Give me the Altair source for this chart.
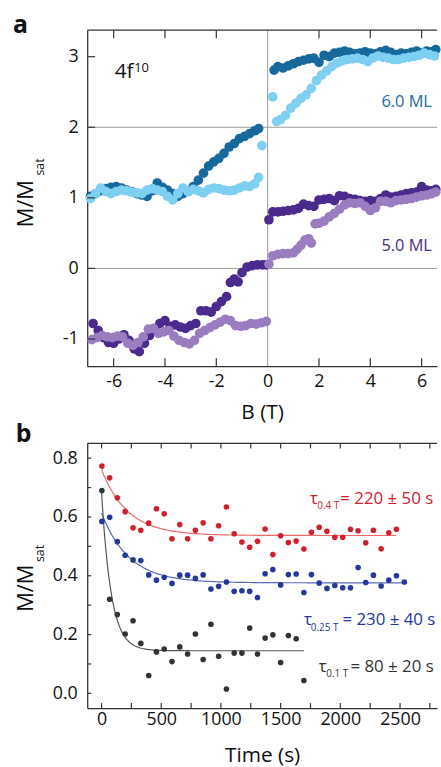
import altair as alt
import numpy as np
import pandas as pd

FONT = "Open Sans"

# ---------------- panel a: hysteresis loops ----------------
db_neg_B = [-6.9, -6.7, -6.5, -6.3, -6.1, -5.9, -5.7, -5.5, -5.3, -5.1, -4.9, -4.7, -4.5, -4.3, -4.1, -3.9, -3.7,
            -3.5, -3.3, -3.1, -2.9, -2.7, -2.5, -2.3, -2.1, -1.9, -1.7, -1.5, -1.3, -1.1, -0.9, -0.7, -0.5, -0.35]
db_neg_M = [1.02, 1.06, 1.10, 1.13, 1.15, 1.16, 1.14, 1.11, 1.09, 1.06, 1.04, 1.02, 1.10, 1.21, 1.15, 1.11, 1.06,
            1.02, 1.06, 1.09, 1.16, 1.25, 1.35, 1.45, 1.51, 1.56, 1.63, 1.72, 1.77, 1.84, 1.87, 1.91, 1.95, 1.98]
db_pos_B = [0.25, 0.4, 0.6, 0.8, 1.0, 1.2, 1.4, 1.6, 1.8, 2.0, 2.2, 2.4, 2.6, 2.8, 3.0, 3.2, 3.4, 3.6, 3.8, 4.0,
            4.2, 4.4, 4.6, 4.8, 5.0, 5.2, 5.4, 5.6, 5.8, 6.0, 6.2, 6.4, 6.55]
db_pos_M = [2.81, 2.86, 2.84, 2.87, 2.90, 2.93, 2.95, 2.97, 2.98, 2.92, 3.02, 3.00, 3.05, 3.06, 3.08, 3.06, 3.04,
            3.05, 3.07, 3.05, 3.04, 3.07, 3.09, 3.06, 3.03, 3.05, 3.04, 3.06, 3.08, 3.05, 3.08, 3.07, 3.10]

lb_neg_B = [-6.9, -6.7, -6.5, -6.3, -6.1, -5.9, -5.7, -5.5, -5.3, -5.1, -4.9, -4.7, -4.5, -4.3, -4.1, -3.9, -3.7,
            -3.5, -3.3, -3.1, -2.9, -2.7, -2.5, -2.3, -2.1, -1.9, -1.7, -1.5, -1.3, -1.1, -0.9, -0.7, -0.5, -0.35,
            -0.22]
lb_neg_M = [0.99, 1.06, 1.14, 1.09, 1.06, 1.09, 1.11, 1.10, 1.08, 1.07, 1.06, 1.11, 1.13, 1.11, 1.09, 1.02, 0.97,
            1.06, 1.14, 1.09, 1.12, 1.10, 1.07, 1.12, 1.14, 1.13, 1.11, 1.10, 1.11, 1.14, 1.17, 1.16, 1.20, 1.29,
            1.74]
lb_pos_B = [0.2, 0.35, 0.5, 0.7, 0.9, 1.1, 1.3, 1.5, 1.7, 1.9, 2.1, 2.3, 2.5, 2.7, 2.9, 3.1, 3.3, 3.5, 3.7, 3.9,
            4.1, 4.3, 4.5, 4.7, 4.9, 5.1, 5.3, 5.5, 5.7, 5.9, 6.1, 6.3, 6.5]
lb_pos_M = [2.43, 2.08, 2.11, 2.17, 2.27, 2.34, 2.41, 2.46, 2.55, 2.66, 2.74, 2.80, 2.86, 2.91, 2.94, 2.96, 2.97,
            2.98, 2.96, 2.93, 2.98, 3.01, 2.99, 2.98, 2.96, 2.96, 2.98, 2.99, 3.00, 3.02, 3.05, 3.03, 3.01]

dp_neg_B = [-6.8, -6.6, -6.4, -6.2, -6.0, -5.8, -5.6, -5.4, -5.2, -5.0, -4.8, -4.6, -4.4, -4.2, -4.0, -3.8, -3.6,
            -3.4, -3.2, -3.0, -2.8, -2.6, -2.4, -2.2, -2.0, -1.8, -1.6, -1.45, -1.3, -1.15, -1.0, -0.8, -0.6, -0.4,
            -0.2, -0.05]
dp_neg_M = [-0.78, -0.88, -0.98, -1.05, -1.06, -1.00, -0.94, -1.02, -1.14, -1.18, -1.06, -0.95, -0.86, -0.78,
            -0.74, -0.82, -0.80, -0.83, -0.85, -0.81, -0.78, -0.60, -0.60, -0.62, -0.54, -0.47, -0.40, -0.20,
            -0.15, -0.19, -0.06, 0.02, 0.04, 0.05, 0.05, 0.05]
dp_pos_B = [0.05, 0.2, 0.4, 0.6, 0.8, 1.0, 1.2, 1.4, 1.6, 1.8, 2.0, 2.2, 2.4, 2.6, 2.8, 3.0, 3.2, 3.4, 3.6, 3.8,
            4.0, 4.2, 4.4, 4.6, 4.8, 5.0, 5.2, 5.4, 5.6, 5.8, 6.0, 6.2, 6.4, 6.55]
dp_pos_M = [0.69, 0.80, 0.80, 0.81, 0.82, 0.83, 0.85, 0.91, 0.89, 0.88, 0.97, 0.98, 0.99, 0.96, 1.03, 1.02, 0.99,
            0.98, 0.96, 0.95, 0.96, 0.95, 0.99, 1.04, 1.01, 1.02, 1.04, 1.06, 1.07, 1.08, 1.16, 1.11, 1.10, 1.12]

lp_neg_B = [-6.85, -6.65, -6.45, -6.25, -6.05, -5.85, -5.65, -5.45, -5.25, -5.05, -4.85, -4.65, -4.45, -4.25,
            -4.05, -3.85, -3.65, -3.45, -3.25, -3.05, -2.85, -2.65, -2.45, -2.25, -2.05, -1.85, -1.65, -1.45,
            -1.25, -1.05, -0.85, -0.65, -0.45, -0.25, -0.05]
lp_neg_M = [-1.01, -0.98, -0.95, -0.97, -0.98, -0.96, -0.97, -1.06, -1.09, -1.05, -0.97, -0.86, -0.85, -0.92,
            -0.90, -0.88, -0.96, -1.02, -1.05, -1.07, -1.02, -0.92, -0.88, -0.84, -0.80, -0.76, -0.72, -0.74,
            -0.81, -0.82, -0.81, -0.78, -0.79, -0.77, -0.75]
lp_pos_B = [0.05, 0.2, 0.4, 0.6, 0.8, 1.0, 1.15, 1.3, 1.45, 1.6, 1.7, 1.85, 2.0, 2.2, 2.4, 2.6, 2.8, 3.0, 3.2,
            3.4, 3.6, 3.8, 4.0, 4.2, 4.4, 4.6, 4.8, 5.0, 5.2, 5.4, 5.6, 5.8, 6.0, 6.2, 6.4, 6.55]
lp_pos_M = [0.06, 0.18, 0.20, 0.21, 0.21, 0.22, 0.27, 0.33, 0.40, 0.42, 0.36, 0.63, 0.64, 0.67, 0.73, 0.78, 0.84,
            0.90, 0.93, 0.92, 0.93, 0.88, 0.82, 0.86, 0.95, 0.95, 0.93, 0.96, 0.97, 0.98, 0.99, 1.01, 1.03, 1.04,
            1.06, 1.08]

loop_names = ["6.0 ML up", "6.0 ML down", "5.0 ML up", "5.0 ML down"]
loop_colors = ["#17689c", "#7ed0f2", "#4a2a8c", "#9a7cc0"]

# ---------------- panel b: relaxation at fixed field ----------------
times = [3, 68, 132, 198, 264, 329, 395, 460, 525, 590, 655, 721, 786, 851, 916, 981, 1046, 1111, 1176, 1241,
         1306, 1370, 1435, 1500, 1565, 1630, 1695, 1758, 1823, 1888, 1954, 2020, 2085, 2149, 2213, 2277, 2342,
         2406, 2470, 2536]
red_M = [0.773, 0.733, 0.665, 0.618, 0.563, 0.555, 0.579, 0.628, 0.611, 0.526, 0.574, 0.526, 0.555, 0.580,
         0.526, 0.570, 0.634, 0.543, 0.515, 0.497, 0.517, 0.559, 0.472, 0.536, 0.513, 0.518, 0.491, 0.548,
         0.565, 0.551, 0.531, 0.531, 0.558, 0.553, 0.512, 0.555, 0.492, 0.546, 0.558]
blue_M = [0.585, 0.599, 0.516, 0.470, 0.454, 0.452, 0.403, 0.385, 0.395, 0.374, 0.402, 0.402, 0.391, 0.403,
          0.355, 0.364, 0.379, 0.347, 0.349, 0.347, 0.326, 0.407, 0.421, 0.369, 0.404, 0.406, 0.343, 0.404,
          0.375, 0.357, 0.367, 0.359, 0.359, 0.428, 0.377, 0.402, 0.365, 0.385, 0.400, 0.379]
gray_M = [0.690, 0.320, 0.268, 0.202, 0.247, 0.170, 0.061, 0.141, 0.151, 0.108, 0.158, 0.134, 0.202, 0.115,
          0.235, 0.126, 0.015, 0.137, 0.137, 0.222, 0.134, 0.188, 0.199, 0.105, 0.197, 0.186, 0.044]

relax_names = ["0.4 T", "0.25 T", "0.1 T"]
relax_colors = ["#d0202e", "#25389a", "#333333"]
fit_colors = ["#f06a66", "#5c68bb", "#555555"]
fit_tau = [220, 230, 80]          # s
fit_base = [0.537, 0.376, 0.145]
fit_amp = [0.224, 0.237, 0.540]
fit_end = [2470, 2536, 1695]

W, HA, HB = 353, 339, 267

# ---------- build tables ----------
loops = pd.concat([
    pd.DataFrame({"B": db_neg_B + db_pos_B, "M": db_neg_M + db_pos_M, "loop": loop_names[0]}),
    pd.DataFrame({"B": lb_neg_B + lb_pos_B, "M": lb_neg_M + lb_pos_M, "loop": loop_names[1]}),
    pd.DataFrame({"B": dp_neg_B + dp_pos_B, "M": dp_neg_M + dp_pos_M, "loop": loop_names[2]}),
    pd.DataFrame({"B": lp_neg_B + lp_pos_B, "M": lp_neg_M + lp_pos_M, "loop": loop_names[3]}),
], ignore_index=True)

relax = pd.concat([
    pd.DataFrame({"t": times[:len(red_M)], "M": red_M, "run": relax_names[0]}),
    pd.DataFrame({"t": times[:len(blue_M)], "M": blue_M, "run": relax_names[1]}),
    pd.DataFrame({"t": times[:len(gray_M)], "M": gray_M, "run": relax_names[2]}),
], ignore_index=True)

fit_rows = []
for name, tau, base, amp, end in zip(relax_names, fit_tau, fit_base, fit_amp, fit_end):
    tt = np.linspace(0, end, 200)
    fit_rows.append(pd.DataFrame({"t": tt, "M": base + amp * np.exp(-tt / tau), "fit": name}))
fits = pd.concat(fit_rows, ignore_index=True)

MINUS = "replace(datum.label, '\u2212', '-')"
AXIS_COLOR = "#333333"


def inward_ticks_x(values, h, length, scale, field="v"):
    df = pd.DataFrame({field: values})
    top = alt.Chart(df).mark_rule(color=AXIS_COLOR, strokeWidth=1.2).encode(
        x=alt.X(f"{field}:Q", scale=scale), y=alt.value(0), y2=alt.value(length))
    bot = alt.Chart(df).mark_rule(color=AXIS_COLOR, strokeWidth=1.2).encode(
        x=alt.X(f"{field}:Q", scale=scale), y=alt.value(h), y2=alt.value(h - length))
    return top + bot


def inward_ticks_y(values, length, scale, field="v"):
    df = pd.DataFrame({field: values})
    return alt.Chart(df).mark_rule(color=AXIS_COLOR, strokeWidth=1.2).encode(
        y=alt.Y(f"{field}:Q", scale=scale), x=alt.value(0), x2=alt.value(length))


def top_line():
    return alt.Chart(pd.DataFrame({"k": [0]})).mark_rule(color=AXIS_COLOR, strokeWidth=1.3).encode(
        x=alt.value(0), x2=alt.value(W), y=alt.value(0))


def label(text, x, y, size, color, weight="normal", angle=0, align="left", baseline="alphabetic"):
    return alt.Chart(pd.DataFrame({"txt": [text]})).mark_text(
        font=FONT, fontSize=size, color=color, fontWeight=weight, angle=angle, align=align,
        baseline=baseline).encode(x=alt.value(x), y=alt.value(y), text="txt:N")


def data_text(df, xf, yf, size, color, align="left"):
    return alt.Chart(df).mark_text(font=FONT, fontSize=size, color=color, align=align,
                                   baseline="alphabetic").encode(x=xf, y=yf, text="txt:N")


# ---------- panel a ----------
xa_scale = alt.Scale(domain=[-7.03, 6.6], nice=False, zero=False)
ya_scale = alt.Scale(domain=[-1.385, 3.375], nice=False, zero=False)

a_points = alt.Chart(loops).mark_circle(size=95, opacity=1).encode(
    x=alt.X("B:Q", scale=xa_scale,
            axis=alt.Axis(values=[-6, -4, -2, 0, 2, 4, 6], format="d", title="B (T)", ticks=False, tickSize=0,
                          grid=False, labelPadding=7, titlePadding=11, labelExpr=MINUS)),
    y=alt.Y("M:Q", scale=ya_scale,
            axis=alt.Axis(values=[-1, 0, 1, 2, 3], format="d", title=None, ticks=False, tickSize=0, grid=False,
                          labelPadding=9, labelExpr=MINUS)),
    color=alt.Color("loop:N", scale=alt.Scale(domain=loop_names, range=loop_colors), legend=None),
)

hlines = alt.Chart(pd.DataFrame({"M": [0, 2]})).mark_rule(color="#9a9a9a", strokeWidth=1).encode(
    y=alt.Y("M:Q", scale=ya_scale))
vlines = alt.Chart(pd.DataFrame({"B": [0]})).mark_rule(color="#9a9a9a", strokeWidth=1).encode(
    x=alt.X("B:Q", scale=xa_scale))

a_ann = pd.DataFrame({"B": [6.40, 6.40], "M": [2.28, 0.25], "txt": ["6.0 ML", "5.0 ML"]})
a_lab_6 = data_text(a_ann.iloc[[0]], alt.X("B:Q", scale=xa_scale), alt.Y("M:Q", scale=ya_scale), 16.5,
                    "#1f6aa0", align="right")
a_lab_5 = data_text(a_ann.iloc[[1]], alt.X("B:Q", scale=xa_scale), alt.Y("M:Q", scale=ya_scale), 16.5,
                    "#4b2d8c", align="right")
conf_main = data_text(pd.DataFrame({"B": [-5.96], "M": [2.70], "txt": ["4f"]}),
                      alt.X("B:Q", scale=xa_scale), alt.Y("M:Q", scale=ya_scale), 21, "#111111")
conf_sup = data_text(pd.DataFrame({"B": [-5.20], "M": [2.78], "txt": ["10"]}),
                     alt.X("B:Q", scale=xa_scale), alt.Y("M:Q", scale=ya_scale), 13, "#111111")

panel_a = alt.layer(
    hlines, vlines, a_points,
    inward_ticks_x([-6, -4, -2, 2, 4, 6], HA, 8, xa_scale),
    inward_ticks_y([-1, 0, 1, 2, 3], 8, ya_scale),
    top_line(),
    a_lab_6, a_lab_5, conf_main, conf_sup,
    label("a", -75, 3, 25, "#111111", weight="bold"),
    label("M/M", -55, 175, 22, "#111111", angle=270, align="center"),
    label("sat", -44, 138, 12.5, "#111111", angle=270, align="center"),
).properties(width=W, height=HA)

# ---------- panel b ----------
xb_scale = alt.Scale(domain=[-120, 2810], nice=False, zero=False)
yb_scale = alt.Scale(domain=[-0.05, 0.85], nice=False, zero=False)

b_points = alt.Chart(relax).mark_circle(size=32, opacity=1).encode(
    x=alt.X("t:Q", scale=xb_scale,
            axis=alt.Axis(values=[0, 500, 1000, 1500, 2000, 2500], format="d", title="Time (s)", ticks=False,
                          tickSize=0, grid=False, labelPadding=3, titlePadding=16)),
    y=alt.Y("M:Q", scale=yb_scale,
            axis=alt.Axis(values=[0.0, 0.2, 0.4, 0.6, 0.8], format=".1f", title=None, ticks=False, tickSize=0,
                          grid=False, labelPadding=10)),
    color=alt.Color("run:N", scale=alt.Scale(domain=relax_names, range=relax_colors), legend=None),
)

b_fits = alt.Chart(fits).mark_line(strokeWidth=1.2).encode(
    x=alt.X("t:Q", scale=xb_scale),
    y=alt.Y("M:Q", scale=yb_scale),
    stroke=alt.Stroke("fit:N", scale=alt.Scale(domain=relax_names, range=fit_colors), legend=None),
    detail="fit:N",
)

tau_main = ["= 220 \u00b1 50 s", "= 230 \u00b1 40 s", "= 80 \u00b1 20 s"]
tau_x = [2000, 2018, 2085]      # start of "=" text
sub_x = [1807, 1752, 1882]      # start of field subscript
sym_x = [1745, 1695, 1819]      # start of tau symbol
tau_y = [0.643, 0.233, 0.074]   # baseline of main text
sub_y = [0.628, 0.213, 0.054]   # baseline of subscript

tau_layers = []
for i in range(3):
    c = relax_colors[i]
    xs = alt.X("t:Q", scale=xb_scale)
    ys = alt.Y("M:Q", scale=yb_scale)
    tau_layers.append(data_text(pd.DataFrame({"t": [sym_x[i]], "M": [tau_y[i]], "txt": ["\u03c4"]}),
                                xs, ys, 17, c))
    tau_layers.append(data_text(pd.DataFrame({"t": [sub_x[i]], "M": [sub_y[i]], "txt": [relax_names[i]]}),
                                xs, ys, 10, c))
    tau_layers.append(data_text(pd.DataFrame({"t": [tau_x[i]], "M": [tau_y[i]], "txt": [tau_main[i]]}),
                                xs, ys, 17, c))

b_xt = [0, 250, 500, 750, 1000, 1250, 1500, 1750, 2000, 2250, 2500, 2750]
b_yt = [0.0, 0.1, 0.2, 0.3, 0.4, 0.5, 0.6, 0.7, 0.8]

panel_b = alt.layer(
    b_fits, b_points,
    inward_ticks_x(b_xt, HB, 5, xb_scale),
    inward_ticks_y(b_yt, 4, yb_scale),
    top_line(),
    *tau_layers,
    label("b", -72, -1, 25, "#111111", weight="bold"),
    label("M/M", -55, 146, 22, "#111111", angle=270, align="center"),
    label("sat", -44, 111, 12.5, "#111111", angle=270, align="center"),
).properties(width=W, height=HB)

chart = alt.vconcat(panel_a, panel_b, spacing=78, bounds="flush").resolve_scale(
    color="independent", stroke="independent"
).properties(
    padding={"left": 13, "top": 10, "right": 0, "bottom": 0}
).configure_view(stroke=None).configure_axis(
    domainColor=AXIS_COLOR, domainWidth=1.3, labelFont=FONT, labelFontSize=18, labelColor="#111111",
    titleFont=FONT, titleFontSize=21, titleFontWeight="normal", titleColor="#111111",
)

chart.save("out.html", embed_options={"renderer": "svg", "actions": False})
